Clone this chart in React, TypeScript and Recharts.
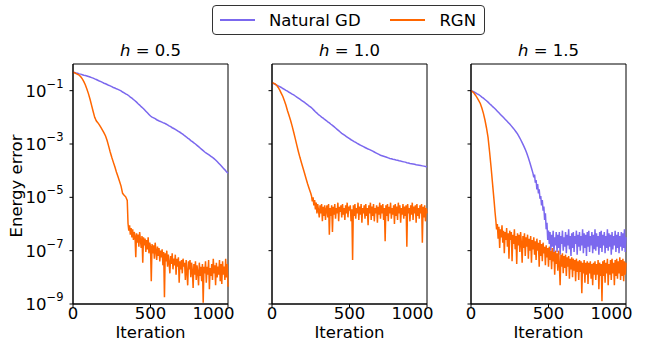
import { LineChart, Line, XAxis, YAxis, ReferenceArea } from 'recharts';

// All values are log10(energy error).
// "smooth" parts are sampled every 10 iterations from 0,
// "noisy" parts every 5 iterations, right after the smooth part.

const gdSmoothH05 = [
  -0.31, -0.32, -0.34, -0.35, -0.37, -0.38, -0.4, -0.42, -0.43, -0.45,
  -0.47, -0.49, -0.51, -0.53, -0.56, -0.58, -0.61, -0.64, -0.66, -0.69,
  -0.72, -0.74, -0.77, -0.8, -0.82, -0.85, -0.88, -0.9, -0.93, -0.95,
  -0.98, -1.01, -1.05, -1.08, -1.12, -1.15, -1.19, -1.24, -1.28, -1.33,
  -1.38, -1.43, -1.49, -1.54, -1.6, -1.65, -1.71, -1.77, -1.83, -1.89,
  -1.95, -1.99, -2.02, -2.05, -2.09, -2.12, -2.15, -2.17, -2.2, -2.22,
  -2.25, -2.28, -2.32, -2.35, -2.39, -2.42, -2.45, -2.49, -2.53, -2.56,
  -2.6, -2.64, -2.69, -2.73, -2.78, -2.82, -2.87, -2.91, -2.96, -3.0,
  -3.05, -3.1, -3.15, -3.2, -3.25, -3.3, -3.34, -3.38, -3.42, -3.46,
  -3.5, -3.55, -3.6, -3.66, -3.72, -3.78, -3.84, -3.91, -3.97, -4.04, -4.1,
];

const rgnSmoothH05 = [
  -0.31, -0.33, -0.36, -0.39, -0.42, -0.48, -0.56, -0.66, -0.79, -0.95,
  -1.12, -1.32, -1.55, -1.78, -2.0, -2.13, -2.2, -2.28, -2.38, -2.48,
  -2.58, -2.7, -2.87, -3.08, -3.3, -3.5, -3.68, -3.85, -4.05, -4.22,
  -4.4, -4.58, -4.85, -4.92, -4.98, -5.12,
];
const rgnNoisyH05 = [
  -5.98, -6.25, -6.05, -6.4, -6.15, -6.5, -6.2, -6.6, -6.3, -6.45,
  -7.25, -6.35, -6.7, -6.4, -6.85, -6.3, -6.6, -6.9, -6.45, -7.45,
  -6.5, -6.8, -6.55, -7.05, -6.6, -6.95, -6.5, -7.1, -6.7, -6.85,
  -8.15, -6.75, -7.1, -6.8, -7.3, -6.7, -7.0, -7.35, -6.85, -7.2,
  -6.9, -7.4, -7.0, -7.25, -6.95, -7.55, -7.05, -8.75, -7.1, -7.4,
  -7.0, -7.6, -7.15, -7.45, -7.85, -7.2, -7.5, -7.1, -7.7, -7.3,
  -7.55, -7.15, -7.9, -7.3, -7.6, -7.25, -8.2, -7.4, -7.7, -7.35,
  -7.85, -7.3, -7.6, -7.45, -8.1, -7.35, -7.8, -8.3, -7.4, -7.7,
  -7.35, -8.0, -7.45, -7.75, -8.4, -7.5, -7.9, -7.4, -8.1, -7.55,
  -7.8, -8.3, -7.45, -7.95, -7.6, -8.15, -7.5, -8.95, -7.6, -7.85,
  -7.4, -8.2, -7.6, -7.9, -7.35, -8.45, -7.65, -7.95, -7.5, -8.1,
  -7.3, -7.85, -7.55, -8.3, -7.45, -8.0, -7.6, -7.9, -7.35, -8.15,
  -7.5, -8.25, -7.4, -7.9, -7.6, -8.1, -7.3, -8.0, -7.5, -8.35,
];

const gdSmoothH10 = [
  -0.7, -0.73, -0.76, -0.79, -0.82, -0.85, -0.88, -0.92, -0.95, -0.99,
  -1.02, -1.06, -1.09, -1.13, -1.16, -1.2, -1.24, -1.28, -1.32, -1.36,
  -1.4, -1.44, -1.49, -1.53, -1.58, -1.62, -1.67, -1.73, -1.79, -1.84,
  -1.9, -1.94, -1.99, -2.03, -2.08, -2.12, -2.17, -2.21, -2.26, -2.3,
  -2.35, -2.4, -2.45, -2.5, -2.55, -2.6, -2.64, -2.68, -2.72, -2.76,
  -2.8, -2.84, -2.87, -2.91, -2.94, -2.98, -3.01, -3.04, -3.07, -3.1,
  -3.13, -3.16, -3.19, -3.21, -3.24, -3.27, -3.3, -3.33, -3.36, -3.39,
  -3.42, -3.44, -3.46, -3.48, -3.5, -3.52, -3.54, -3.55, -3.57, -3.58,
  -3.6, -3.61, -3.63, -3.64, -3.66, -3.67, -3.68, -3.7, -3.71, -3.73,
  -3.74, -3.75, -3.76, -3.78, -3.79, -3.8, -3.81, -3.82, -3.83, -3.84, -3.85,
];

const rgnSmoothH10 = [
  -0.7, -0.72, -0.75, -0.8, -0.88, -0.98, -1.1, -1.22, -1.38, -1.55,
  -1.75, -1.93, -2.12, -2.33, -2.56, -2.8, -3.04, -3.28, -3.5, -3.7,
  -3.9, -4.1, -4.3, -4.5, -4.68, -4.85,
];
const rgnNoisyH10 = [
  -4.95, -5.15, -5.0, -5.3, -5.1, -5.45, -5.2, -5.6, -5.25, -5.5,
  -5.75, -5.3, -5.6, -5.25, -5.9, -5.35, -5.7, -5.3, -5.85, -5.45,
  -5.3, -5.75, -5.25, -6.4, -5.4, -5.7, -5.3, -6.3, -5.35, -5.65,
  -5.25, -5.8, -5.4, -5.6, -5.2, -5.9, -5.35, -5.55, -5.3, -5.75,
  -5.25, -5.65, -5.4, -5.85, -5.3, -5.6, -5.2, -5.75, -5.35, -5.5,
  -5.3, -5.9, -5.45, -7.35, -5.3, -5.7, -5.25, -5.8, -5.4, -5.6,
  -5.2, -5.85, -5.35, -5.65, -5.25, -5.95, -5.4, -5.6, -5.3, -5.8,
  -5.25, -5.7, -5.4, -6.05, -5.3, -5.6, -5.2, -5.85, -5.35, -5.7,
  -5.25, -5.9, -5.4, -5.6, -5.3, -5.95, -5.35, -5.65, -5.2, -5.8,
  -5.3, -5.6, -5.25, -5.85, -5.4, -6.65, -5.3, -5.7, -5.25, -5.9,
  -5.35, -5.6, -5.2, -5.8, -5.4, -5.65, -5.3, -6.0, -5.25, -5.7,
  -5.35, -5.85, -5.2, -5.6, -5.3, -5.95, -5.4, -5.65, -5.25, -5.8,
  -5.35, -5.7, -5.3, -6.85, -5.25, -5.6, -5.4, -5.9, -5.3, -5.65,
  -5.2, -5.85, -5.35, -5.6, -5.3, -5.95, -5.25, -5.7, -5.4, -5.8,
  -5.3, -5.6, -5.25, -6.7, -5.35, -5.75, -5.3, -5.9, -5.4, -5.6,
];

const gdSmoothH15 = [
  -1.0, -1.02, -1.05, -1.08, -1.12, -1.15, -1.19, -1.24, -1.28, -1.33,
  -1.38, -1.43, -1.49, -1.54, -1.6, -1.65, -1.71, -1.77, -1.83, -1.89,
  -1.95, -2.01, -2.07, -2.13, -2.19, -2.25, -2.32, -2.39, -2.46, -2.54,
  -2.62, -2.72, -2.83, -2.95, -3.07, -3.2, -3.35, -3.52, -3.7, -3.9, -4.1,
];
const gdNoisyH15 = [
  -4.25, -4.15, -4.45, -4.35, -4.7, -4.5, -4.85, -4.7, -5.05, -4.95,
  -5.3, -5.1, -5.5, -5.35, -5.85, -5.6, -6.2, -5.95, -6.6, -6.25,
  -6.75, -6.3, -7.0, -6.4, -6.85, -6.25, -7.1, -6.5, -6.8, -6.3,
  -7.05, -6.4, -6.9, -6.3, -7.15, -6.45, -6.75, -6.25, -7.0, -6.5,
  -6.85, -6.3, -7.1, -6.4, -6.8, -6.2, -6.95, -6.45, -7.2, -6.35,
  -6.9, -6.3, -7.05, -6.45, -6.75, -6.25, -7.15, -6.4, -6.85, -6.3,
  -7.0, -6.45, -6.8, -6.2, -7.1, -6.35, -6.9, -6.4, -7.2, -6.3,
  -6.85, -6.25, -7.05, -6.45, -6.8, -6.3, -7.1, -6.4, -6.95, -6.2,
  -7.0, -6.35, -6.85, -6.45, -7.15, -6.3, -6.9, -6.25, -7.05, -6.4,
  -6.8, -6.3, -7.1, -6.45, -6.9, -6.2, -7.0, -6.35, -6.85, -6.4,
  -7.15, -6.3, -6.95, -6.45, -6.8, -6.25, -7.05, -6.4, -6.9, -6.3,
  -7.1, -6.45, -6.85, -6.3, -7.0, -6.35, -6.9, -6.2, -7.05, -6.5,
];

const rgnSmoothH15 = [
  -1.0, -1.04, -1.1, -1.18, -1.27, -1.37, -1.48, -1.65, -1.85, -2.1,
  -2.4, -2.75, -3.3, -3.9, -4.55, -5.2,
];
const rgnNoisyH15 = [
  -5.55, -5.85, -6.2, -6.0, -6.55, -6.1, -6.9, -6.2, -6.5, -6.05,
  -6.7, -6.25, -7.1, -6.3, -6.6, -6.15, -6.85, -6.35, -7.3, -6.25,
  -6.6, -6.3, -7.4, -6.4, -6.75, -6.2, -6.95, -6.45, -7.5, -6.35,
  -6.8, -6.4, -7.05, -6.3, -6.7, -7.45, -6.45, -6.9, -6.35, -7.2,
  -6.5, -6.85, -6.4, -7.3, -6.55, -7.0, -6.45, -7.45, -6.6, -6.95,
  -6.5, -7.15, -6.65, -7.35, -6.55, -7.0, -6.7, -7.6, -6.6, -7.2,
  -6.75, -7.4, -6.7, -7.1, -6.85, -7.55, -6.8, -7.25, -6.9, -7.6,
  -6.85, -7.35, -7.0, -7.7, -6.9, -7.4, -7.05, -7.9, -7.0, -7.5,
  -7.1, -7.75, -7.0, -7.5, -8.3, -7.15, -7.6, -7.1, -7.85, -7.2,
  -7.65, -7.15, -7.95, -7.25, -7.6, -7.2, -8.05, -7.3, -7.7, -7.25,
  -8.0, -7.3, -7.75, -7.35, -8.15, -7.3, -7.8, -7.4, -8.1, -7.35,
  -7.8, -7.4, -8.6, -7.45, -7.85, -7.35, -8.2, -7.45, -7.9, -7.4,
  -8.25, -7.45, -7.85, -7.4, -8.05, -7.5, -8.3, -7.45, -7.9, -7.4,
  -8.1, -7.5, -7.9, -7.35, -8.45, -7.45, -7.95, -7.5, -8.9, -7.4,
  -7.95, -7.35, -8.2, -7.45, -7.85, -7.3, -8.3, -7.5, -7.9, -7.35,
  -8.1, -7.3, -7.85, -7.45, -8.3, -7.35, -7.95, -7.3, -8.05, -7.4,
  -7.85, -7.25, -8.1, -7.35, -7.95, -7.3, -8.15, -7.4, -7.9, -7.45,
];

const titles = ['0.5', '1.0', '1.5'];
const xTicks = [0, 500, 1000];
const yTicks = [1e-9, 1e-7, 1e-5, 1e-3, 1e-1];

const GD_COLOR = '#7b68ee';
const RGN_COLOR = '#ff6600';
const FONT = '"DejaVu Sans", sans-serif';
const FS = 16.5;

const PLOT_W = 155;
const PLOT_TOP = 64;
const PLOT_BOTTOM = 304;
const H = 345;
const lefts = [73, 272, 471];

// smooth part every 10 iterations, then noisy part every 5
const toPoints = (smooth: number[], noisy: number[] = []) => {
  const pts = smooth.map((v, i) => ({ it: i * 10, v: Math.pow(10, v) }));
  const start = (smooth.length - 1) * 10 + 5;
  noisy.forEach((v, i) => pts.push({ it: start + i * 5, v: Math.pow(10, v) }));
  return pts;
};

const series = [
  { gd: toPoints(gdSmoothH05), rgn: toPoints(rgnSmoothH05, rgnNoisyH05) },
  { gd: toPoints(gdSmoothH10), rgn: toPoints(rgnSmoothH10, rgnNoisyH10) },
  { gd: toPoints(gdSmoothH15, gdNoisyH15), rgn: toPoints(rgnSmoothH15, rgnNoisyH15) },
];

const LogTick = ({ x, y, payload }: any) => {
  const exp = Math.round(Math.log10(payload.value));
  return (
    <text x={x - 4} y={y} textAnchor="end" fontFamily={FONT} fill="#000">
      <tspan fontSize={FS} dy={6}>10</tspan>
      <tspan fontSize={FS * 0.7} dy={-9}>{'\u2212' + Math.abs(exp)}</tspan>
    </text>
  );
};

const NoTick = () => <g />;

const Panel = ({ idx }: { idx: number }) => {
  const s = series[idx];
  const yw = idx === 0 ? 73 : 10;
  const left = lefts[idx] - yw;
  return (
    <div style={{ position: 'absolute', left, top: 0 }}>
      <LineChart
        width={yw + PLOT_W + 2}
        height={H}
        margin={{ top: PLOT_TOP, right: 2, bottom: 0, left: 0 }}
      >
        <XAxis
          dataKey="it"
          type="number"
          domain={[0, 1000]}
          ticks={xTicks}
          tickSize={3.5}
          stroke="#000"
          height={H - PLOT_BOTTOM}
          tick={{ fontSize: FS, fontFamily: FONT, fill: '#000', dy: -2 }}
          label={{
            value: 'Iteration',
            position: 'insideBottom',
            offset: 7,
            style: { fontSize: FS, fontFamily: FONT, fill: '#000' },
          }}
        />
        <YAxis
          scale="log"
          domain={[1e-9, 1]}
          ticks={yTicks}
          allowDataOverflow
          width={yw}
          tickSize={3.5}
          stroke="#000"
          tick={idx === 0 ? <LogTick /> : <NoTick />}
        />
        <ReferenceArea
          x1={0}
          x2={1000}
          y1={1e-9}
          y2={1}
          fill="none"
          stroke="#000"
          strokeWidth={1}
          ifOverflow="visible"
        />
        <Line
          data={s.gd}
          dataKey="v"
          stroke={GD_COLOR}
          strokeWidth={1.5}
          dot={false}
          isAnimationActive={false}
        />
        <Line
          data={s.rgn}
          dataKey="v"
          stroke={RGN_COLOR}
          strokeWidth={1.5}
          dot={false}
          isAnimationActive={false}
        />
      </LineChart>
      <div
        style={{
          position: 'absolute',
          left: yw,
          width: PLOT_W,
          top: 41,
          textAlign: 'center',
          fontFamily: FONT,
          fontSize: FS,
          lineHeight: '20px',
        }}
      >
        <i>h</i> = {titles[idx]}
      </div>
    </div>
  );
};

const LegendItem = ({ color, text }: { color: string; text: string }) => (
  <div style={{ display: 'flex', alignItems: 'center' }}>
    <div style={{ width: 35, height: 2, background: color, marginRight: 14 }} />
    <span>{text}</span>
  </div>
);

export default function App() {
  return (
    <div
      style={{
        position: 'absolute',
        left: 0,
        top: 0,
        width: 649,
        height: 345,
        background: '#fff',
        overflow: 'hidden',
      }}
    >
      <style>{'svg.recharts-surface { overflow: visible; }'}</style>
      <div
        style={{
          position: 'absolute',
          left: 212,
          top: 5,
          width: 273,
          height: 30,
          boxSizing: 'border-box',
          border: '1px solid #333',
          borderRadius: 4,
          display: 'flex',
          alignItems: 'center',
          justifyContent: 'space-between',
          padding: '0 8px 0 7px',
          fontFamily: FONT,
          fontSize: FS,
        }}
      >
        <LegendItem color={GD_COLOR} text="Natural GD" />
        <LegendItem color={RGN_COLOR} text="RGN" />
      </div>
      <div
        style={{
          position: 'absolute',
          left: 4,
          top: 186,
          transform: 'translate(0, -50%) rotate(-90deg)',
          transformOrigin: 'center',
          fontFamily: FONT,
          fontSize: FS,
          whiteSpace: 'nowrap',
          width: 24,
          display: 'flex',
          justifyContent: 'center',
        }}
      >
        Energy error
      </div>
      <Panel idx={0} />
      <Panel idx={1} />
      <Panel idx={2} />
    </div>
  );
}
